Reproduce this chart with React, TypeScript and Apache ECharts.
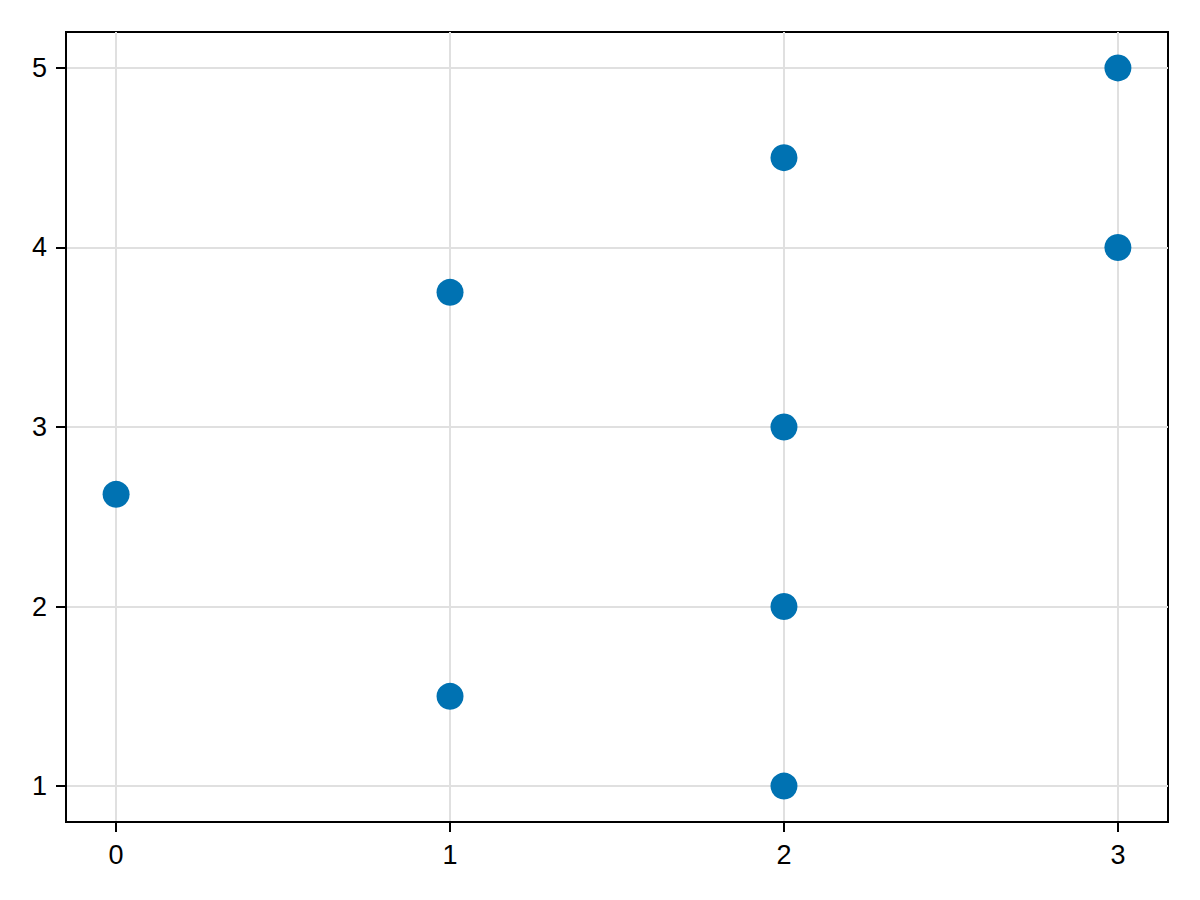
import React, { useEffect, useRef } from "react";
import * as echarts from "echarts";

const xValues = [0, 1, 1, 2, 2, 2, 2, 3, 3];
const yValues = [2.625, 3.75, 1.5, 4.5, 3, 2, 1, 5, 4];
const xTicks = [0, 1, 2, 3];
const yTicks = [1, 2, 3, 4, 5];

const FONT = "'Liberation Sans', 'Helvetica', Arial, sans-serif";

export default function App() {
  const ref = useRef<HTMLDivElement>(null);
  useEffect(() => {
    const chart = echarts.init(ref.current!, null, { renderer: "svg" });
    const points = xValues.map((x, i) => [x, yValues[i]]);
    const axisCommon = {
      type: "value",
      axisLine: { show: true, onZero: false, lineStyle: { color: "#000", width: 2 } },
      axisTick: { show: true, inside: false, length: 10, lineStyle: { color: "#000", width: 2 } },
      splitLine: { show: true, lineStyle: { color: "#e0e0e0", width: 2 } },
    };
    chart.setOption({
      animation: false,
      backgroundColor: "#ffffff",
      grid: {
        left: 66,
        right: 32,
        top: 32,
        bottom: 78,
        show: true,
        borderColor: "#000",
        borderWidth: 2,
        backgroundColor: "transparent",
      },
      xAxis: {
        ...axisCommon,
        min: -0.15,
        max: 3.15,
        axisTick: { ...axisCommon.axisTick, customValues: xTicks },
        axisLabel: {
          customValues: xTicks,
          color: "#000",
          fontSize: 27,
          fontFamily: FONT,
          margin: 19,
        },
      },
      yAxis: {
        ...axisCommon,
        min: 0.8,
        max: 5.2,
        axisTick: { ...axisCommon.axisTick, customValues: yTicks },
        axisLabel: {
          customValues: yTicks,
          color: "#000",
          fontSize: 27,
          fontFamily: FONT,
          margin: 19,
        },
      },
      series: [
        {
          type: "scatter",
          data: points,
          symbol: "circle",
          symbolSize: 27,
          itemStyle: { color: "#0072b2", opacity: 1 },
          z: 5,
        },
      ],
    });
    return () => chart.dispose();
  }, []);
  return (
    <div
      ref={ref}
      style={{ position: "absolute", left: 0, top: 0, width: 1200, height: 900, background: "#fff" }}
    />
  );
}
